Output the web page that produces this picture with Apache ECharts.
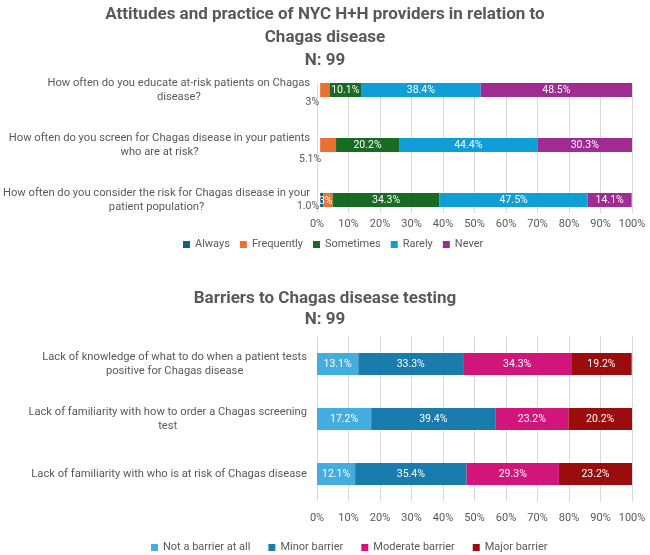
<!DOCTYPE html>
<html lang="en">
<head>
  <meta charset="utf-8">
  <title>Chagas disease survey</title>
  <script src="https://cdn.jsdelivr.net/npm/echarts@6/dist/echarts.min.js"></script>
  <style>
    html, body { margin: 0; padding: 0; background: #fff; }
    #chart { width: 650px; height: 555px; }
  </style>
</head>
<body>
<div id="chart"></div>
<script>
  // top chart: attitudes and practice
  const questions = [
    'How often do you educate at-risk patients on Chagas\ndisease?',
    'How often do you screen for Chagas disease in your patients\nwho are at risk?',
    'How often do you consider the risk for Chagas disease in your\npatient population?'
  ];
  const freqNames = ['Always', 'Frequently', 'Sometimes', 'Rarely', 'Never'];
  const always = [0, 0, 1.0];
  const frequently = [3, 5.1, 3];
  const sometimes = [10.1, 20.2, 34.3];
  const rarely = [38.4, 44.4, 47.5];
  const never = [48.5, 30.3, 14.1];

  // bottom chart: barriers
  const barriers = [
    'Lack of knowledge of what to do when a patient tests\npositive for Chagas disease',
    'Lack of familiarity with how to order a Chagas screening\ntest',
    'Lack of familiarity with who is at risk of Chagas disease'
  ];
  const barrierNames = ['Not a barrier at all', 'Minor barrier', 'Moderate barrier', 'Major barrier'];
  const notBarrier = [13.1, 17.2, 12.1];
  const minorBarrier = [33.3, 39.4, 35.4];
  const moderateBarrier = [34.3, 23.2, 29.3];
  const majorBarrier = [19.2, 20.2, 23.2];

  const FONT = 'Roboto';
  const GREY = '#595959';
  const freqColors = ['#156082', '#e97132', '#196b24', '#0f9ed5', '#a02b93'];
  const barrierColors = ['#44ade0', '#1a7cad', '#d1157a', '#9b0d0d'];

  // little segments whose labels Excel pushed outside the bar
  const outside = { color: GREY, align: 'right', verticalAlign: 'middle' };
  const labelFix = {
    'Frequently-0': Object.assign({ position: [-1, 19] }, outside),
    'Frequently-1': Object.assign({ position: [1, 21] }, outside),
    'Always-2': Object.assign({ position: [-1, 13] }, outside),
    'Frequently-2': { position: [2.5, 8], align: 'center', verticalAlign: 'middle' }
  };

  const richLabel = v => v.split('\n').map(s => '{c|' + s + '}').join('\n');
  const rich = { c: { align: 'center', fontFamily: FONT, fontSize: 11.2, color: GREY, lineHeight: 14 } };

  function makeSeries(name, values, axis, barWidth) {
    return {
      name: name,
      type: 'bar',
      stack: 'total' + axis,
      xAxisIndex: axis,
      yAxisIndex: axis,
      barWidth: barWidth,
      data: values.map((v, j) => {
        const item = { value: v };
        if (labelFix[name + '-' + j]) item.label = labelFix[name + '-' + j];
        return item;
      }),
      label: {
        show: true,
        color: '#fff',
        fontFamily: FONT,
        fontSize: 10.5,
        formatter: p => p.value === 0 ? '' : (p.seriesName === 'Always' ? p.value.toFixed(1) : p.value) + '%'
      }
    };
  }

  const freqData = [always, frequently, sometimes, rarely, never];
  const barrierData = [notBarrier, minorBarrier, moderateBarrier, majorBarrier];

  const series = [];
  freqNames.forEach((n, i) => series.push(Object.assign(makeSeries(n, freqData[i], 0, 14), { itemStyle: { color: freqColors[i] } })));
  barrierNames.forEach((n, i) => series.push(Object.assign(makeSeries(n, barrierData[i], 2, 22), { itemStyle: { color: barrierColors[i] } })));
  // empty series so the gridline-only grid gets drawn
  series.push({ type: 'bar', xAxisIndex: 1, yAxisIndex: 1, data: [] });

  const pctAxis = {
    type: 'value', min: 0, max: 100, interval: 10,
    axisLine: { show: false }, axisTick: { show: false },
    axisLabel: { formatter: '{value}%', color: GREY, fontFamily: FONT, fontSize: 11 },
    splitLine: { lineStyle: { color: '#d9d9d9' } }
  };

  const catAxis = data => ({
    type: 'category', data: data, inverse: true,
    axisLine: { show: false }, axisTick: { show: false },
    axisLabel: { margin: 10, formatter: richLabel, rich: rich }
  });

  const titleStyle = { fontFamily: FONT, fontSize: 17, fontWeight: 'bold', color: GREY, align: 'center' };

  const chart = echarts.init(document.getElementById('chart'));
  chart.setOption({
    animation: false,
    textStyle: { fontFamily: FONT },
    title: [
      {
        text: 'Attitudes and practice of NYC H+H providers in relation to\nChagas disease\nN: 99',
        left: 'center', top: -2,
        textStyle: Object.assign({ lineHeight: 23 }, titleStyle)
      },
      {
        text: 'Barriers to Chagas disease testing\nN: 99',
        left: 'center', top: 283,
        textStyle: Object.assign({ lineHeight: 21 }, titleStyle)
      }
    ],
    legend: [
      {
        data: freqNames, top: 234, left: 178, icon: 'rect', itemWidth: 7, itemHeight: 7, itemGap: 10,
        textStyle: { color: GREY, fontFamily: FONT, fontSize: 11 }
      },
      {
        data: barrierNames, top: 537, left: 146, icon: 'rect', itemWidth: 7, itemHeight: 7, itemGap: 18,
        textStyle: { color: GREY, fontFamily: FONT, fontSize: 11 }
      }
    ],
    grid: [
      { left: 317, right: 18, top: 62.5, height: 165 },
      { left: 317, right: 18, top: 83, height: 130 },
      { left: 317, right: 18, top: 336.5, height: 165 }
    ],
    xAxis: [
      Object.assign({}, pctAxis, { gridIndex: 0, show: false }),
      Object.assign({}, pctAxis, { gridIndex: 1, axisLabel: Object.assign({}, pctAxis.axisLabel, { margin: 6 }) }),
      Object.assign({}, pctAxis, { gridIndex: 2, axisLabel: Object.assign({}, pctAxis.axisLabel, { margin: 11 }) })
    ],
    yAxis: [
      Object.assign(catAxis(questions), { gridIndex: 0 }),
      { type: 'value', gridIndex: 1, show: false, min: 0, max: 1 },
      Object.assign(catAxis(barriers), { gridIndex: 2 })
    ],
    series: series
  });
</script>
</body>
</html>
